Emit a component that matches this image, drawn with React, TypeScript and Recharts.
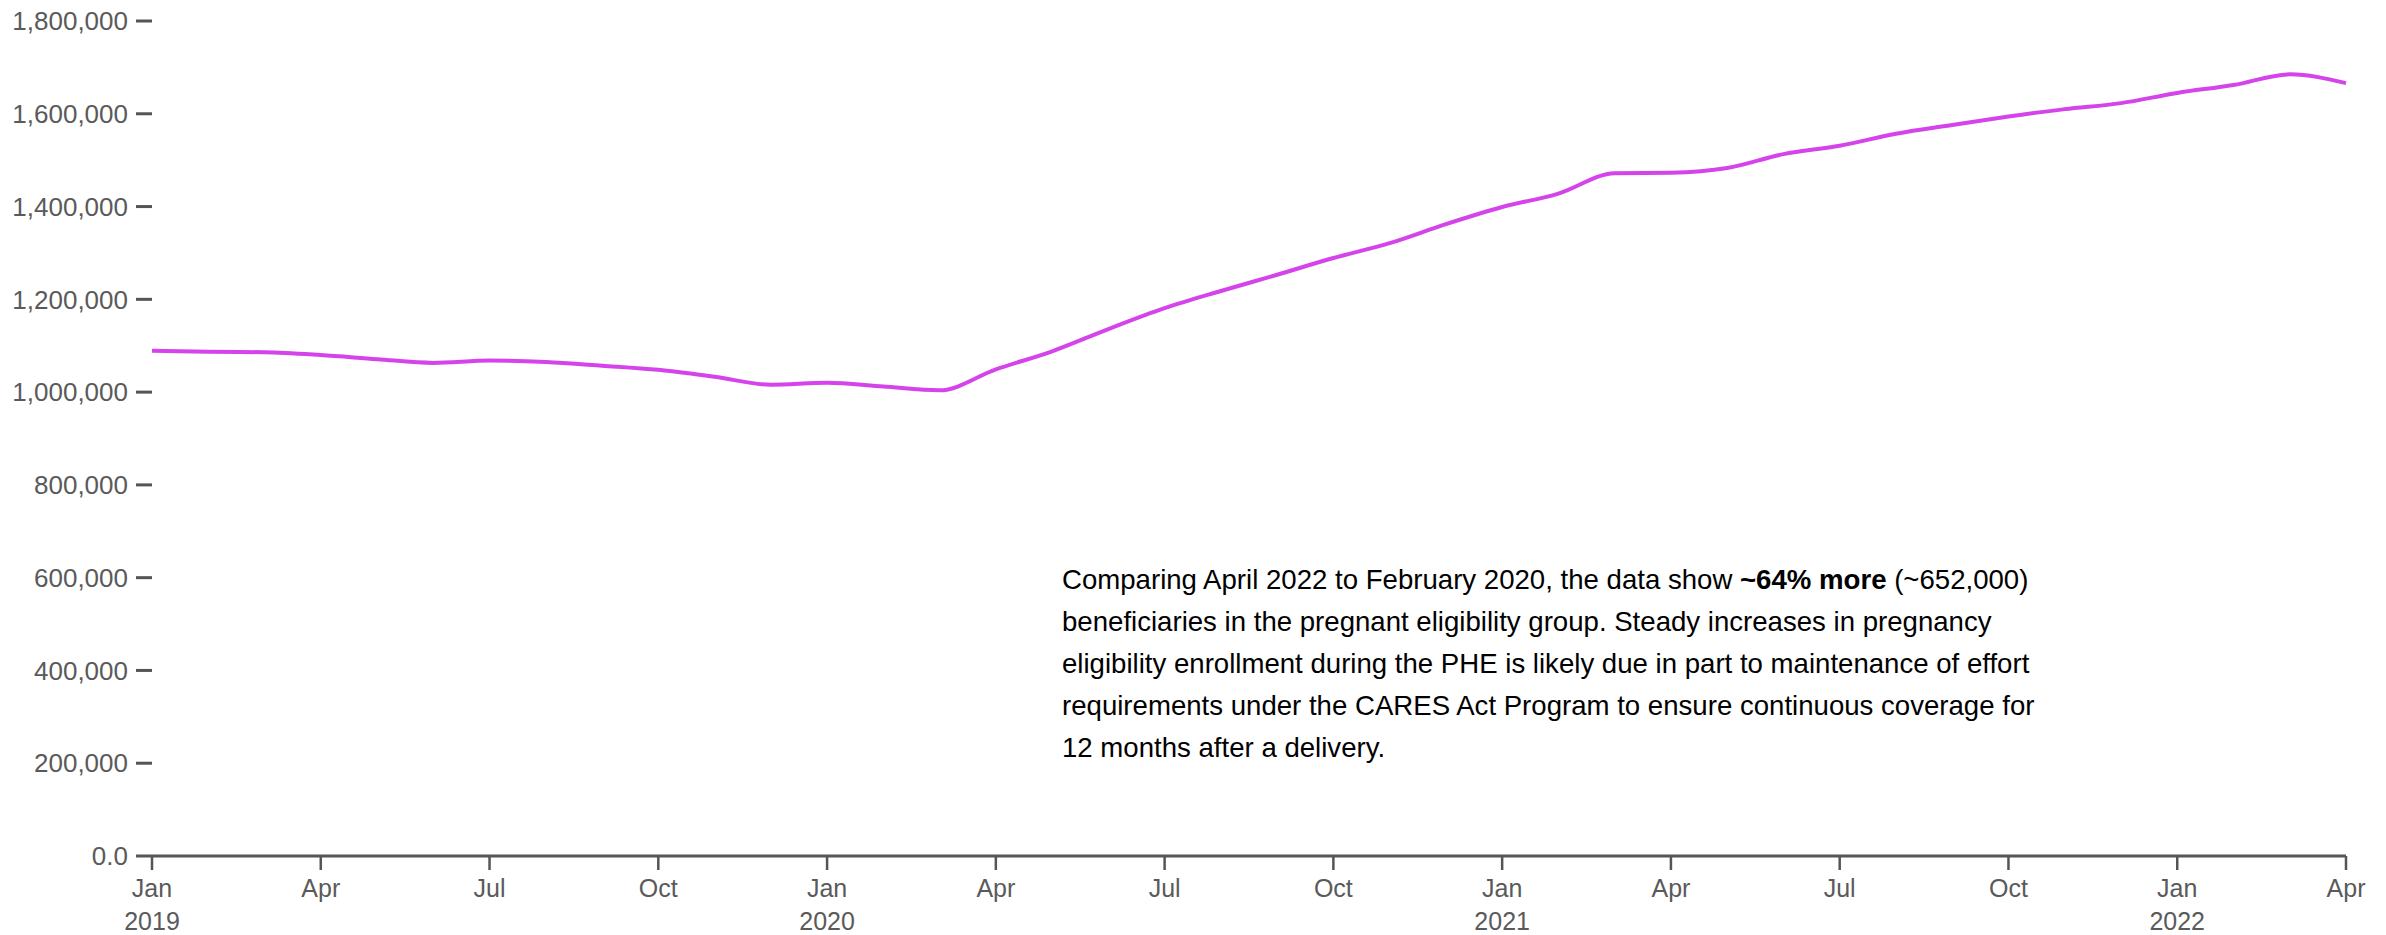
import { LineChart, Line, XAxis, YAxis } from 'recharts'

// monthly enrollment, pregnant eligibility group, Jan 2019 – Apr 2022
const MONTHS = [
  '2019-01', '2019-02', '2019-03', '2019-04', '2019-05', '2019-06',
  '2019-07', '2019-08', '2019-09', '2019-10', '2019-11', '2019-12',
  '2020-01', '2020-02', '2020-03', '2020-04', '2020-05', '2020-06',
  '2020-07', '2020-08', '2020-09', '2020-10', '2020-11', '2020-12',
  '2021-01', '2021-02', '2021-03', '2021-04', '2021-05', '2021-06',
  '2021-07', '2021-08', '2021-09', '2021-10', '2021-11', '2021-12',
  '2022-01', '2022-02', '2022-03', '2022-04',
]
const ENROLLMENT = [
  1089000, 1087000, 1086000, 1080000, 1071000, 1063000,
  1068000, 1065000, 1057000, 1048000, 1033000, 1016000,
  1020000, 1012000, 1004000, 1049000, 1088000, 1136000,
  1181000, 1218000, 1253000, 1289000, 1321000, 1362000,
  1399000, 1428000, 1472000, 1473000, 1483000, 1513000,
  1531000, 1557000, 1576000, 1594000, 1610000, 1623000,
  1645000, 1662000, 1685000, 1666000,
]

const Y_TICKS = [0, 200000, 400000, 600000, 800000, 1000000, 1200000, 1400000, 1600000, 1800000]
const X_TICKS = [0, 3, 6, 9, 12, 15, 18, 21, 24, 27, 30, 33, 36, 39]
const MONTH_NAMES = ['Jan', 'Apr', 'Jul', 'Oct']
const YEARS = ['2019', '2020', '2021', '2022']

const FONT = '"Liberation Sans", Arial, sans-serif'
const AXIS_GREY = '#555'
const LABEL_GREY = '#5a5a5a'

const data = MONTHS.map((m, i) => ({ idx: i, month: m, value: ENROLLMENT[i] }))

const fmtY = (v: number) => (v === 0 ? '0.0' : v.toLocaleString('en-US'))

function XTick(props: any) {
  const { x, y, payload } = props
  const i = payload.value as number
  const name = MONTH_NAMES[(i % 12) / 3]
  const year = i % 12 === 0 ? YEARS[i / 12] : null
  return (
    <g>
      <text x={x} y={y} dy={21} textAnchor="middle" fill={LABEL_GREY} fontSize={25} fontFamily={FONT}>
        {name}
      </text>
      {year && (
        <text x={x} y={y} dy={54} textAnchor="middle" fill={LABEL_GREY} fontSize={25} fontFamily={FONT}>
          {year}
        </text>
      )}
    </g>
  )
}

export default function App() {
  return (
    <div style={{ position: 'absolute', left: 0, top: 0, width: 2386, height: 935, background: '#fff' }}>
      <LineChart width={2386} height={935} data={data} margin={{ top: 21, right: 40, bottom: 0, left: 0 }}>
        <XAxis
          dataKey="idx"
          type="number"
          domain={[0, 39]}
          ticks={X_TICKS}
          height={79}
          tick={<XTick />}
          tickSize={14}
          tickMargin={6}
          axisLine={{ stroke: AXIS_GREY, strokeWidth: 3 }}
          tickLine={{ stroke: AXIS_GREY, strokeWidth: 2.5 }}
          interval={0}
        />
        <YAxis
          domain={[0, 1800000]}
          ticks={Y_TICKS}
          width={152}
          tickFormatter={fmtY}
          tick={{ fill: LABEL_GREY, fontSize: 26, fontFamily: FONT }}
          tickSize={16}
          tickMargin={8}
          axisLine={false}
          tickLine={{ stroke: AXIS_GREY, strokeWidth: 3 }}
          interval={0}
        />
        <Line
          type="monotone"
          dataKey="value"
          stroke="#d444ea"
          strokeWidth={4}
          dot={false}
          isAnimationActive={false}
        />
      </LineChart>
      <div
        style={{
          position: 'absolute',
          left: 1062,
          top: 559,
          fontFamily: FONT,
          fontSize: 27.6,
          lineHeight: '42px',
          color: '#000',
          whiteSpace: 'nowrap',
        }}
      >
        Comparing April 2022 to February 2020, the data show <b>~64% more</b> (~652,000)
        <br />
        beneficiaries in the pregnant eligibility group. Steady increases in pregnancy
        <br />
        eligibility enrollment during the PHE is likely due in part to maintenance of effort
        <br />
        requirements under the CARES Act Program to ensure continuous coverage for
        <br />
        12 months after a delivery.
      </div>
    </div>
  )
}
